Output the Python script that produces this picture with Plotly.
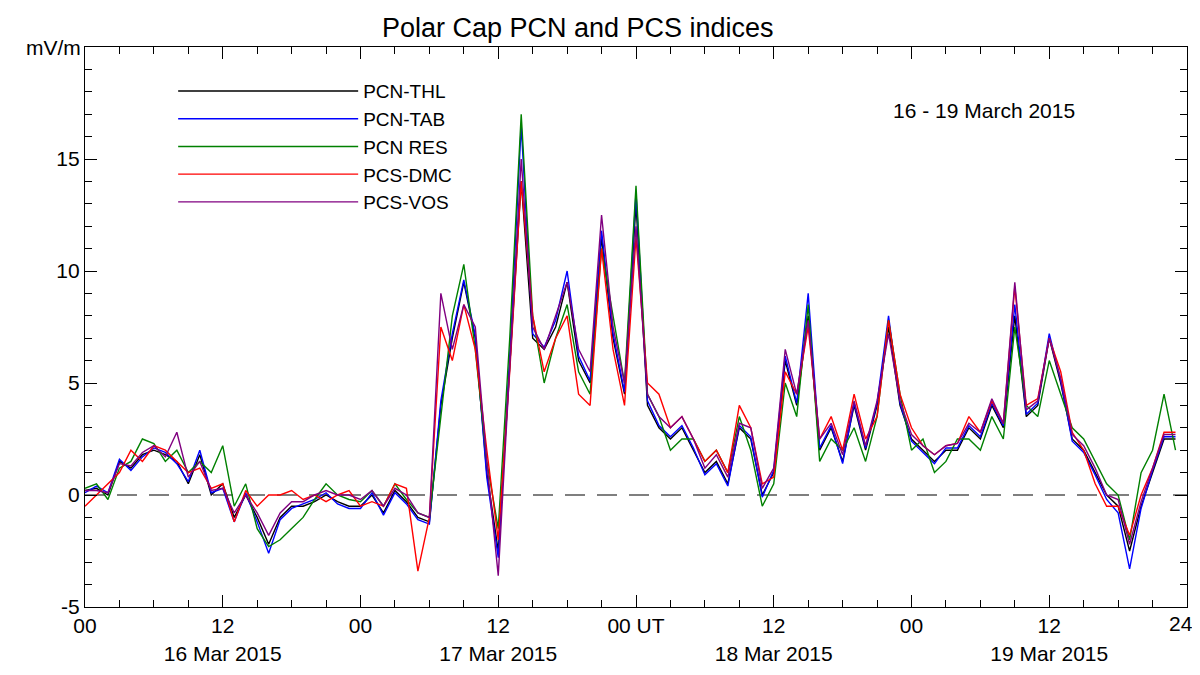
import plotly.graph_objects as go

hours = list(range(97))
thl = [0.2,0.3,0,1.5,1.2,1.8,2.0,1.8,1.5,0.5,1.8,0,0.5,-1.0,0,-1,-2.2,-1,-0.5,-0.5,-0.3,0,-0.3,-0.5,-0.5,
       0,-0.8,0.2,-0.3,-1,-1.2,4,7,9.5,7,1,-2.5,6,14,7,6.5,7.5,9.5,6,5,11.5,7,4.5,13,
       4,3,2.5,3,2,1,1.5,0.5,3,2.5,0,1,6,4,8,2,3,1.5,4,2,4,7.5,4,2.5,2,1.5,2,2,3,2.5,4,3,8,3.5,4,7,5,2.5,2,1,0,-0.5,-2.5,-0.5,1,2.5,2.5]
tab = [0.1,0.4,0.1,1.6,1.1,1.7,2.1,1.9,1.4,0.6,2.0,0.1,0.3,-1.2,0.1,-1.2,-2.6,-1.1,-0.6,-0.4,-0.2,0.1,-0.4,-0.6,-0.6,
       0.1,-0.9,0.1,-0.4,-1.1,-1.3,4.2,7.2,9.6,7.1,0.8,-2.8,6.2,16.5,7.2,6.6,7.8,10,6.2,5.1,11.8,7.2,4.6,13.5,
       4.2,3.1,2.6,3.1,2.1,0.9,1.4,0.4,3.1,2.6,-0.1,1.1,6.2,4.1,9,2.1,3.1,1.4,4.1,2.1,4.1,8,4.1,2.4,1.9,1.4,2.1,2.1,3.1,2.6,4.1,3.1,8.5,3.6,4.1,7.2,5.1,2.4,1.9,0.9,-0.2,-0.8,-3.3,-0.6,1.1,2.6,2.6]
res = [0.3,0.5,-0.2,1.2,1.5,2.5,2.3,1.5,2,1,1.5,1,2.2,-0.5,0.5,-1.5,-2.3,-2,-1.5,-1,-0.2,0.5,0,-0.2,-0.3,
       0.2,-0.5,0.5,-0.2,-0.8,-1,3.5,8,10.3,6.5,1.5,-1.5,7,17,8,5,7,8.5,5.5,4.5,11,8,5,13.8,
       4.5,3.5,2,2.5,2.5,1.5,2,1,3.5,2,-0.5,0.5,5,3.5,8.5,1.5,2.5,2,3,1.5,3.5,7.8,4.5,2,2.5,1,1.5,2.5,2.5,2,3.5,2.5,7.5,4,3.5,6,4.5,3,2.5,1.5,0.5,0,-2,1,2,4.5,2]
dmc = [-0.5,0,0.5,1,2,1.5,2.2,2,1.5,1,1.2,0.3,0.5,-1.2,0.2,-0.5,0,0,0.2,-0.2,0,-0.3,0,0.2,-0.5,
       -0.3,-0.5,0.5,0.3,-3.4,-1,7.5,6,8.5,6.5,2,-2,5.5,14,8,5.5,7,8,4.5,4,11,6.5,4,11.5,
       5,4.5,3,3.5,2.5,1.5,2,1,4,3,0.5,0.8,5.5,4.5,7.5,2.5,3.5,2,4.5,2.5,3.5,7.8,4.5,3,2.2,1.8,2.2,2.3,3.5,2.8,4.2,3.2,9.3,4,4.3,7,5.5,2.8,2,0.5,-0.5,-0.5,-1.8,0,1.2,2.8,2.8]
vos = [0.2,0.2,0.1,1.4,1.3,1.9,2.2,1.7,2.8,0.8,1.5,0.2,0.3,-0.8,0,-0.8,-1.8,-0.8,-0.3,-0.3,0,0.2,0,0,-0.2,
       0.2,-0.5,0.3,0,-0.8,-1,9,6.5,8.5,7.5,1.5,-3.6,5.5,15,7.5,6.5,8,9.5,6.5,5.5,12.5,7.5,5,12,
       4.5,3.5,3,3.5,2.5,1.2,1.8,0.8,3.2,3,0.3,1.2,6.5,4.5,7.8,2.5,3.2,1.8,4.2,2.2,4.2,7.2,4.2,2.7,2.2,1.8,2.2,2.3,3.2,2.8,4.3,3.2,9.5,3.8,4.2,7,5.2,2.7,2.2,1.2,0,-0.2,-2.2,-0.3,1.2,2.7,2.7]

names = ["PCN-THL","PCN-TAB","PCN RES","PCS-DMC","PCS-VOS"]
colors = ["#000000","#0000ff","#008000","#ff0000","#800080"]
series = [thl, tab, res, dmc, vos]

tickvals = [0,12,24,36,48,60,72,84]
ticktext = ["00","12<br>16 Mar 2015","00","12<br>17 Mar 2015","00 UT","12<br>18 Mar 2015","00","12<br>19 Mar 2015"]
end_label = "24"

fig = go.Figure()
fig.add_trace(go.Scatter(x=[0,96], y=[0,0], mode="lines", line=dict(color="black", width=1.2, dash="20px,12px"),
                         showlegend=False, hoverinfo="skip"))
for n, c, s in zip(names, colors, series):
    fig.add_trace(go.Scatter(x=hours, y=s, mode="lines", name=n, line=dict(color=c, width=1.4)))

font = "Liberation Sans, Arial"
axis_common = dict(showgrid=False, zeroline=False, showline=True, linecolor="black", linewidth=1.2,
                   mirror="allticks", ticks="inside", ticklen=12, tickcolor="black",
                   tickfont=dict(size=21, color="black", family=font))
fig.update_xaxes(range=[0,96], tickvals=tickvals, ticktext=ticktext,
                 minor=dict(dtick=3, ticks="inside", ticklen=7, tickcolor="black"), **axis_common)
fig.update_yaxes(range=[-5,20], tickvals=[-5,0,5,10,15], ticktext=["-5","0","5","10","15"],
                 minor=dict(dtick=1, ticks="inside", ticklen=7, tickcolor="black"), **axis_common)

fig.update_layout(
    width=1192, height=667, plot_bgcolor="white", paper_bgcolor="white",
    margin=dict(l=77, r=13, t=39, b=68, autoexpand=False),
    title=dict(text="Polar Cap PCN and PCS indices", x=0.478, y=0.985, yanchor="top", xanchor="center",
               font=dict(size=27, color="black", family=font)),
    legend=dict(x=0.08, y=0.955, bgcolor="rgba(0,0,0,0)", font=dict(size=19, color="black", family=font),
                itemwidth=180, tracegroupgap=0),
    annotations=[
        dict(text="mV/m", x=0, y=1.0, xref="paper", yref="paper", xanchor="right", yanchor="middle",
             xshift=-2, showarrow=False, font=dict(size=21, color="black", family=font)),
        dict(text="16 - 19 March 2015", x=0.9, y=0.91, xref="paper", yref="paper", xanchor="right",
             showarrow=False, font=dict(size=21, color="black", family=font)),
        dict(text=end_label, x=96, y=0, xref="x", yref="paper", xanchor="right", yanchor="top",
             xshift=8, yshift=-3, showarrow=False, font=dict(size=21, color="black", family=font)),
    ],
)
fig.write_html("out.html")
